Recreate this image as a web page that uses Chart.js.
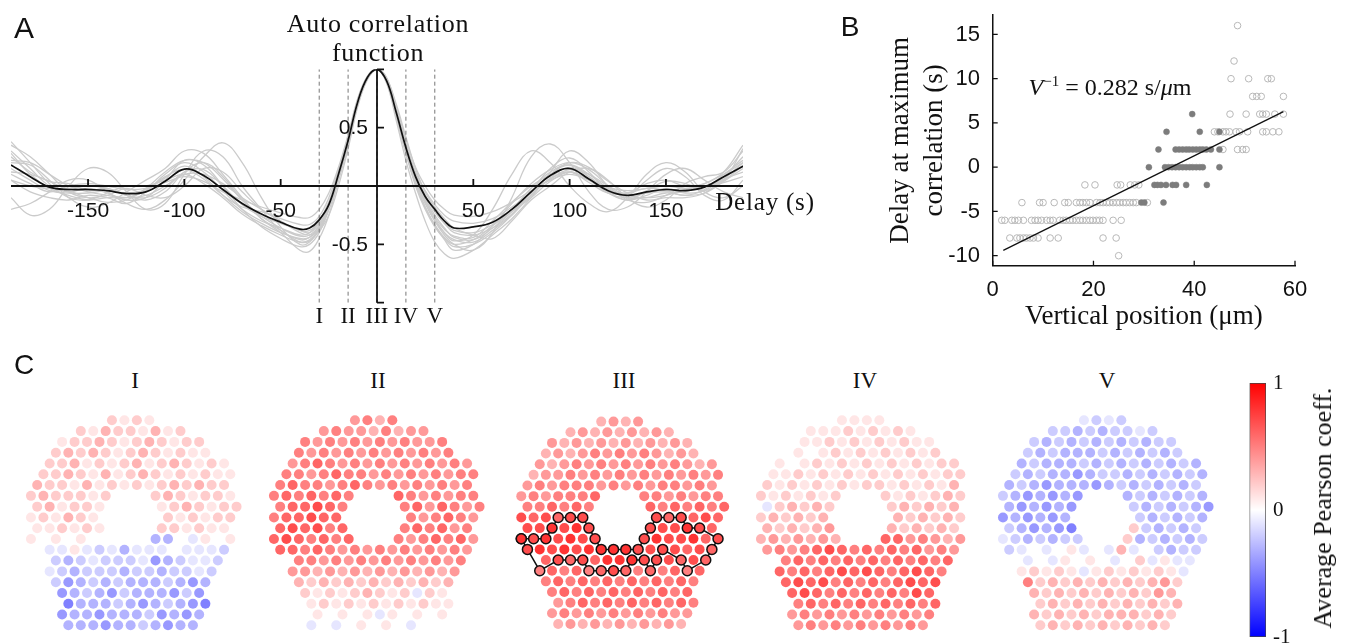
<!DOCTYPE html>
<html>
<head>
<meta charset="utf-8">
<script src="https://cdn.jsdelivr.net/npm/chart.js@4.4.1/dist/chart.umd.min.js"></script>
<style>
  body { margin: 0; background: #fff; }
  #fig { position: relative; width: 1350px; height: 644px; overflow: hidden; }
  #fig canvas { position: absolute; }
  .lbl { position: absolute; white-space: nowrap; line-height: 1; transform: translate(-50%, -50%); color: #111; }
  .serif { font-family: 'Liberation Serif', 'Times New Roman', serif; }
  .sans { font-family: 'Liberation Sans', Arial, sans-serif; }
</style>
</head>
<body>
<div id="fig">
  <canvas id="chartA" width="830" height="340" style="left:0;top:0"></canvas>
  <canvas id="chartB" width="520" height="340" style="left:830px;top:0"></canvas>
  <canvas id="chartC1" width="240" height="240"></canvas>
  <canvas id="chartC2" width="240" height="240"></canvas>
  <canvas id="chartC3" width="240" height="240"></canvas>
  <canvas id="chartC4" width="240" height="240"></canvas>
  <canvas id="chartC5" width="240" height="240"></canvas>
  <canvas id="colorbar" width="80" height="278" style="left:1230px;top:371px"></canvas>
</div>
<script>
// ---------- panel A: autocorrelation functions ----------
const delays = [-190,-180,-170,-160,-150,-140,-130,-120,-110,-100,-90,-80,-70,-60,-50,-40,
  -35,-30,-25,-20,-15,-10,-5,0,5,10,15,20,25,30,35,
  40,50,60,70,80,90,100,110,120,130,140,150,160,170,180,190];

const meanAcf = [0.18,0.08,-0.01,-0.03,-0.03,-0.04,-0.065,-0.05,0.04,0.145,0.09,-0.03,-0.15,-0.24,-0.31,-0.37,
  -0.36,-0.29,-0.16,0.1,0.39,0.72,0.93,1,0.9,0.63,0.33,0.08,-0.09,-0.2,-0.3,
  -0.36,-0.35,-0.31,-0.2,-0.05,0.09,0.15,0.06,-0.04,-0.08,-0.05,-0.03,-0.04,-0.01,0.08,0.17];

// single-cell autocorrelations (grey)
const cellAcf = [
  [0.3,0.15,0.0,-0.05,-0.02,-0.06,-0.12,-0.1,0.05,0.22,0.18,0.0,-0.2,-0.35,-0.45,-0.52,
   -0.5,-0.4,-0.2,0.06,0.36,0.7,0.92,1,0.9,0.6,0.28,0.0,-0.2,-0.35,-0.45,
   -0.52,-0.5,-0.4,-0.25,-0.05,0.15,0.24,0.12,-0.05,-0.12,-0.08,-0.02,-0.06,-0.04,0.08,0.25],
  [0.1,0.02,-0.05,0.0,0.02,0.0,-0.03,-0.02,0.03,0.08,0.04,-0.05,-0.12,-0.18,-0.23,-0.27,
   -0.27,-0.2,-0.06,0.16,0.44,0.75,0.94,1,0.93,0.68,0.4,0.16,0.0,-0.12,-0.2,
   -0.25,-0.26,-0.22,-0.14,-0.04,0.05,0.1,0.05,-0.01,-0.04,-0.02,0.0,-0.02,0.0,0.06,0.12],
  [-0.2,-0.15,-0.05,0.05,0.05,-0.05,-0.15,-0.2,-0.12,0.05,0.25,0.37,0.2,-0.1,-0.35,-0.5,
   -0.48,-0.36,-0.18,0.08,0.38,0.72,0.93,1,0.9,0.62,0.3,0.04,-0.15,-0.3,-0.42,
   -0.5,-0.55,-0.4,-0.1,0.25,0.36,0.2,-0.05,-0.2,-0.18,-0.05,0.1,0.15,0.05,-0.05,-0.1],
  [0.35,0.25,0.1,-0.05,-0.1,-0.08,-0.02,-0.08,-0.1,0.0,0.15,0.12,-0.05,-0.2,-0.3,-0.4,
   -0.42,-0.38,-0.25,0.0,0.32,0.68,0.91,1,0.92,0.7,0.42,0.15,-0.05,-0.18,-0.28,
   -0.36,-0.42,-0.45,-0.3,-0.12,0.0,0.12,0.15,0.05,-0.1,-0.18,-0.12,0.02,0.08,0.12,0.3],
  [0.05,-0.05,-0.1,-0.12,-0.08,-0.1,-0.15,-0.05,0.1,0.2,0.12,-0.04,-0.2,-0.3,-0.36,-0.42,
   -0.4,-0.3,-0.14,0.12,0.4,0.73,0.93,1,0.91,0.64,0.34,0.1,-0.1,-0.25,-0.36,
   -0.44,-0.46,-0.36,-0.22,-0.06,0.1,0.18,0.1,-0.02,-0.1,-0.1,-0.06,-0.08,-0.06,0.04,0.15],
  [0.2,0.18,0.05,-0.1,-0.18,-0.15,-0.05,0.05,0.15,0.3,0.28,0.1,-0.1,-0.28,-0.4,-0.55,
   -0.56,-0.45,-0.25,0.05,0.35,0.7,0.92,1,0.88,0.56,0.22,-0.06,-0.3,-0.48,-0.58,
   -0.62,-0.55,-0.42,-0.28,-0.1,0.12,0.3,0.2,0.0,-0.08,0.05,0.15,0.08,-0.08,-0.12,0.05],
  [0.25,0.12,0.04,0.02,-0.04,-0.02,-0.08,-0.1,-0.02,0.12,0.14,0.0,-0.16,-0.26,-0.32,-0.38,
   -0.4,-0.32,-0.18,0.08,0.37,0.71,0.92,1,0.91,0.66,0.36,0.1,-0.08,-0.22,-0.32,
   -0.38,-0.4,-0.33,-0.2,-0.02,0.12,0.18,0.08,-0.06,-0.1,-0.06,-0.05,-0.05,0.02,0.1,0.2],
  [-0.1,-0.25,-0.2,0.0,0.15,0.12,-0.05,-0.2,-0.15,0.1,0.3,0.25,0.0,-0.2,-0.38,-0.46,
   -0.44,-0.34,-0.16,0.1,0.4,0.74,0.94,1,0.92,0.66,0.35,0.08,-0.12,-0.28,-0.4,
   -0.47,-0.42,-0.2,0.1,0.3,0.2,0.0,-0.15,-0.22,-0.1,0.1,0.2,0.12,-0.05,-0.1,0.0],
  [0.15,0.05,-0.04,-0.06,-0.06,-0.04,-0.06,-0.03,0.07,0.17,0.08,-0.08,-0.22,-0.32,-0.4,-0.45,
   -0.44,-0.36,-0.2,0.05,0.36,0.7,0.92,1,0.9,0.62,0.3,0.05,-0.14,-0.3,-0.4,
   -0.46,-0.48,-0.38,-0.25,-0.08,0.07,0.16,0.08,-0.03,-0.06,-0.02,-0.04,-0.08,-0.03,0.1,0.22],
  [0.28,0.1,-0.02,-0.08,-0.12,-0.1,-0.1,-0.04,0.08,0.14,0.06,-0.08,-0.18,-0.22,-0.28,-0.33,
   -0.33,-0.26,-0.1,0.14,0.42,0.74,0.93,1,0.92,0.66,0.37,0.12,-0.04,-0.16,-0.25,
   -0.3,-0.32,-0.28,-0.18,-0.06,0.06,0.12,0.03,-0.06,-0.06,0.02,0.05,0.0,0.02,0.12,0.35],
  [0.22,0.2,0.1,0.0,-0.05,-0.08,-0.1,-0.08,0.0,0.1,0.1,0.02,-0.1,-0.2,-0.3,-0.38,
   -0.38,-0.3,-0.14,0.12,0.41,0.73,0.93,1,0.91,0.65,0.35,0.1,-0.08,-0.22,-0.32,
   -0.4,-0.42,-0.36,-0.24,-0.08,0.06,0.14,0.1,0.0,-0.08,-0.1,-0.08,-0.03,0.0,0.05,0.18],
  [0.05,0.0,-0.02,-0.02,0.0,-0.02,-0.08,-0.12,-0.05,0.12,0.2,0.08,-0.12,-0.28,-0.38,-0.48,
   -0.47,-0.38,-0.2,0.07,0.37,0.71,0.92,1,0.9,0.61,0.29,0.02,-0.18,-0.34,-0.46,
   -0.55,-0.5,-0.34,-0.15,0.02,0.14,0.2,0.14,0.0,-0.12,-0.14,-0.08,0.0,0.0,0.03,0.08],
  [0.12,0.1,0.04,-0.04,-0.1,-0.14,-0.12,-0.02,0.12,0.22,0.2,0.06,-0.12,-0.26,-0.36,-0.43,
   -0.42,-0.34,-0.17,0.1,0.39,0.72,0.93,1,0.9,0.63,0.32,0.06,-0.12,-0.27,-0.37,
   -0.43,-0.44,-0.3,-0.14,0.0,0.1,0.2,0.16,0.04,-0.06,-0.12,-0.1,-0.1,-0.06,0.06,0.2],
  [0.38,0.2,0.02,-0.1,-0.12,-0.06,0.0,0.0,0.05,0.1,0.02,-0.1,-0.24,-0.34,-0.42,-0.48,
   -0.46,-0.37,-0.19,0.08,0.38,0.72,0.93,1,0.9,0.6,0.28,0.02,-0.18,-0.33,-0.44,
   -0.5,-0.46,-0.34,-0.22,-0.1,0.04,0.12,0.05,-0.06,-0.12,-0.04,0.04,0.02,-0.04,0.05,0.32]
];

const splitDelays = [-30, -15, 0, 15, 30];
const splitNames = ['I', 'II', 'III', 'IV', 'V'];
const acfXTicks = [-150, -100, -50, 50, 100, 150];
const acfYTicks = [-1, -0.5, 0.5, 1];
const acfYLabels = {'-0.5': '-0.5', '0.5': '0.5'};

// ---------- panel B: delay vs vertical position ----------
const openPts = [
  [48.6,16],[47.9,12],
  [47.3,10],[50.8,10],[54.6,10],[55.3,10],
  [51.6,8],[52.4,8],[53.3,8],[57.7,8],
  [47.1,6],[50.3,6],[53.0,6],[53.6,6],[54.3,6],[56.0,6],[57.7,6],
  [44.0,4],[44.7,4],[45.7,4],[46.3,4],[47.0,4],[48.3,4],[49.0,4],[50.6,4],[53.6,4],[54.3,4],[55.6,4],[56.8,4],
  [45.7,2],[48.6,2],[49.6,2],[50.3,2],
  [18.3,-2],[20.3,-2],[24.7,-2],[25.4,-2],[27.3,-2],[28.2,-2],[29.0,-2],
  [5.8,-4],[9.3,-4],[10.0,-4],[12.2,-4],[14.3,-4],[15.0,-4],[16.6,-4],[17.3,-4],[17.9,-4],[18.6,-4],[19.3,-4],
  [20.6,-4],[21.3,-4],[21.9,-4],[22.6,-4],[23.2,-4],[23.9,-4],[24.6,-4],[25.2,-4],[25.9,-4],[26.5,-4],[27.2,-4],[27.9,-4],[28.5,-4],[30.7,-4],
  [1.8,-6],[2.4,-6],[3.8,-6],[4.4,-6],[5.1,-6],[6.1,-6],[7.7,-6],[8.4,-6],[9.0,-6],[9.7,-6],[10.7,-6],[11.4,-6],[12.0,-6],
  [13.3,-6],[14.0,-6],[14.6,-6],[15.3,-6],[15.9,-6],[16.6,-6],[17.3,-6],[17.9,-6],[18.6,-6],[19.3,-6],[19.9,-6],[20.6,-6],[21.2,-6],[21.9,-6],[23.9,-6],[25.5,-6],
  [3.4,-8],[4.8,-8],[5.4,-8],[6.1,-8],[6.7,-8],[7.4,-8],[8.1,-8],[9.0,-8],[11.4,-8],[13.0,-8],[21.9,-8],[24.5,-8],
  [25.0,-10]
];
const filledPts = [
  [39.6,6],
  [34.5,4],[41.1,4],[45.0,4],
  [32.9,2],[36.3,2],[37.0,2],[37.7,2],[38.4,2],[39.0,2],[39.7,2],[40.4,2],[41.1,2],[41.7,2],[42.4,2],[43.3,2],[45.0,2],
  [31.0,0],[34.2,0],[34.9,0],[35.6,0],[36.3,0],[37.0,0],[37.7,0],[38.4,0],[39.1,0],[39.7,0],[40.4,0],[41.1,0],[41.7,0],[45.0,0],
  [32.1,-2],[32.7,-2],[33.4,-2],[34.4,-2],[35.7,-2],[36.4,-2],[38.4,-2],[42.5,-2],
  [29.5,-4],[30.1,-4],[33.9,-4]
];
const fitLine = [[2.1, -9.4], [57.7, 6.28]];
const posTicks = [0, 20, 40, 60];
const delayTicks = [-10, -5, 0, 5, 10, 15];

// ---------- panel C: correlation maps ----------
// cell layout on a hexagonal lattice ('x' = cell)
const cellMask = [
  '.......xxxx.......',
  '....xxxxxxxxx.....',
  '...xxxxxxxxxxxx...',
  '..xxxxxxxxxxxxx...',
  '..xxxxxxxxxxxxxxx.',
  '.xxxxxxxxxxxxxxxx.',
  '.xxxxxxxxxxxxxxxx.',
  'xxxxxxx...xxxxxxx.',
  '.xxxxxx....xxxxxxx',
  'xxxxxx.....xxxxxx.',
  '.xxxxxx....xxxxxx.',
  'xxxxxxx...xxxxxxx.',
  '.xxxxxxxxxxxxxxxx.',
  '..xxxxxxxxxxxxxx..',
  '..xxxxxxxxxxxxxx..',
  '..xxxxxxxxxxxxx...',
  '...xxxxxxxxxxxx...',
  '...xxxxxxxxxxxx...',
  '...xxxxxxxxxxxx...',
  '...xxxxxxxxxxx....'
];
// coefficient per cell, row by row: '0'-'9' = 0.0..0.9, 'a'-'i' = -0.1..-0.9
const coeffI = ['2121','213221312','122321232122','2323212321211','223121231232121','2232131232121211',
  '3221312121232322','23222122321221','2312211232122','121321212122','112121221211','1010100cc0a101',
  '0aa1abacaaa0aaab','bcbabbbadcbaab','abcbbbcbbcbbab','bdcbcbcccbcdc','dcbcdbcccdbd','ecccbcdcbcde',
  'dccdcccbdcdc','cccdccbcdcc'];
const coeffII = ['4535','454435344','545454545445','5454545454545','456545454545454','5545655454545455',
  '5655456545454545','56565656545455','5667655646545','566766545654','676756565645','67656565456564',
  '6656545454545454','55454545454545','44343434343434','3232323232323','212123212a21','121212121211',
  '010101a10101','a0a01010a00'];
const coeffIII = ['3434','343434343','434343434343','3434545454343','434545454545434','3445454545454545',
  '4545554545455454','45455565545455','5565656565656','767677767676','778787777876','87878777877867',
  '7878788887777676','67676888777676','56565676565656','5656565656565','565656565656','456565656565',
  '454545454544','34343434343'];
const coeffIV = ['1111','111212121','011212121211','0101212121212','101212121212122','1121212121212122',
  '2121212122121213','21212122121232','a232322323230','232323323232','323234323232','34343436645434',
  '4545676565656454','56565656565656','65656767656765','6767565656767','676565656576','565656565656',
  '454545454545','45454545454'];
const coeffV = ['abab','bbcbcbbab','bcbcbcbcbcbb','bcbcccbcbcbcb','cbcccbcbcbcbcbc','bcbccdcbbcbcbcbc',
  'cbcdcccdcbcbcbcb','bcdcdcdcbcbcbc','cdcdcdbcbcbcd','dcdcdcbcbcbc','bcdcde2bcbcb','abcbcbb2cbcbcb',
  'ba0a01a0a3a0bcbb','a0a1010a02a1aa','12121a1212121a','5232323232342','323232323243','232323232323',
  '323232333232','23232323232'];
const panelNames = ['I', 'II', 'III', 'IV', 'V'];
const panelCoeffs = [coeffI, coeffII, coeffIII, coeffIV, coeffV];
// outlined cluster in panel III, as [row, column] of the lattice
const clusterIII = [[11,0],[12,1],[14,2],[13,3],[13,4],[13,5],[14,6],[14,7],[14,8],[14,9],[13,9],[13,10],
  [14,11],[13,11],[12,12],[13,13],[14,14],[13,15],[12,16],[11,16],[10,15],[10,14],[9,13],[9,12],[9,11],
  [10,11],[11,10],[12,10],[12,9],[12,8],[12,7],[11,6],[10,6],[9,5],[9,4],[9,3],[10,3],[11,2],[11,1],[11,0]];

const cbTicks = [-1, 0, 1];
const cbColors = ['#0000ff', '#ffffff', '#ff0000'];

// ---------- helpers ----------
const SERIF = "'Liberation Serif', 'Times New Roman', serif";
const SANS = "'Liberation Sans', Arial, sans-serif";
Chart.defaults.animation = false;
Chart.defaults.plugins.legend.display = false;
Chart.defaults.plugins.tooltip.enabled = false;
Chart.defaults.font.family = SANS;

function label(text, x, y, size, cls, extra) {
  const d = document.createElement('div');
  d.className = 'lbl ' + cls;
  d.innerHTML = text;
  d.style.left = x + 'px';
  d.style.top = y + 'px';
  d.style.fontSize = size + 'px';
  if (extra) Object.assign(d.style, extra);
  document.getElementById('fig').appendChild(d);
}

function cellValue(ch) {
  if (ch >= '0' && ch <= '9') return (ch.charCodeAt(0) - 48) / 10;
  return -(ch.charCodeAt(0) - 96) / 10;
}

function coeffColor(v) {
  const t = Math.round(255 * (1 - Math.min(1, Math.abs(v))));
  return v >= 0 ? `rgb(255,${t},${t})` : `rgb(${t},${t},255)`;
}

function toXY(arr) {
  return arr.map(p => ({x: p[0], y: p[1]}));
}

// ---------- panel A ----------
const axesA = {
  id: 'axesA',
  afterDatasetsDraw(chart) {
    const {ctx, scales: {x, y}} = chart;
    const x0 = x.getPixelForValue(0);
    const y0 = y.getPixelForValue(0);
    ctx.save();
    ctx.strokeStyle = '#111';
    ctx.lineWidth = 1.8;
    ctx.beginPath();
    ctx.moveTo(x.getPixelForValue(delays[0]), y0);
    ctx.lineTo(x.getPixelForValue(delays[delays.length - 1]), y0);
    ctx.moveTo(x0, y.getPixelForValue(1));
    ctx.lineTo(x0, y.getPixelForValue(-1));
    acfXTicks.forEach(v => {
      const px = x.getPixelForValue(v);
      ctx.moveTo(px, y0);
      ctx.lineTo(px, y0 - 7);
    });
    acfYTicks.forEach(v => {
      const py = y.getPixelForValue(v);
      ctx.moveTo(x0, py);
      ctx.lineTo(x0 + 7, py);
    });
    ctx.stroke();

    ctx.fillStyle = '#111';
    ctx.font = '21px ' + SANS;
    ctx.textAlign = 'center';
    ctx.textBaseline = 'middle';
    acfXTicks.forEach(v => ctx.fillText(String(v), x.getPixelForValue(v), y0 + 25));
    ctx.textAlign = 'right';
    acfYTicks.forEach(v => {
      const t = acfYLabels[String(v)];
      if (t) ctx.fillText(t, x0 - 9, y.getPixelForValue(v) + 1);
    });

    ctx.font = '23px ' + SERIF;
    ctx.textAlign = 'center';
    splitDelays.forEach((d, i) => ctx.fillText(splitNames[i], x.getPixelForValue(d), 317));
    ctx.restore();
  }
};

const datasetsA = [{
  data: delays.map((d, i) => ({x: d, y: meanAcf[i]})),
  borderColor: '#111',
  borderWidth: 1.7,
  pointRadius: 0,
  tension: 0.4,
  order: 0
}];
splitDelays.forEach(d => {
  datasetsA.push({
    data: [{x: d, y: -1}, {x: d, y: 1}],
    borderColor: '#777',
    borderWidth: 1,
    borderDash: [4, 3],
    pointRadius: 0,
    order: 1
  });
});
cellAcf.forEach(trace => {
  datasetsA.push({
    data: delays.map((d, i) => ({x: d, y: trace[i]})),
    borderColor: '#cbcbcb',
    borderWidth: 1.3,
    pointRadius: 0,
    tension: 0.4,
    order: 2
  });
});

new Chart(document.getElementById('chartA'), {
  type: 'line',
  data: {datasets: datasetsA},
  options: {
    responsive: false,
    devicePixelRatio: 1,
    layout: {padding: {left: 11, right: 87, top: 69.3, bottom: 37.3}},
    scales: {
      x: {type: 'linear', display: false, min: -190, max: 190},
      y: {type: 'linear', display: false, min: -1, max: 1}
    }
  },
  plugins: [axesA]
});

// ---------- panel B ----------
const inwardTicksB = {
  id: 'inwardTicksB',
  afterDraw(chart) {
    const {ctx, chartArea, scales: {x, y}} = chart;
    ctx.save();
    ctx.strokeStyle = '#111';
    ctx.lineWidth = 1.3;
    ctx.beginPath();
    posTicks.forEach(v => {
      const px = x.getPixelForValue(v);
      ctx.moveTo(px, chartArea.bottom);
      ctx.lineTo(px, chartArea.bottom - 5);
    });
    delayTicks.forEach(v => {
      const py = y.getPixelForValue(v);
      ctx.moveTo(chartArea.left, py);
      ctx.lineTo(chartArea.left + 5, py);
    });
    ctx.stroke();
    ctx.restore();
  }
};

new Chart(document.getElementById('chartB'), {
  type: 'scatter',
  data: {
    datasets: [
      {
        type: 'line',
        data: toXY(fitLine),
        borderColor: '#111',
        borderWidth: 1.3,
        pointRadius: 0,
        order: 0
      },
      {
        data: toXY(filledPts),
        pointRadius: 3,
        pointBackgroundColor: '#7c7c7c',
        pointBorderColor: '#7c7c7c',
        pointBorderWidth: 0.5,
        order: 1
      },
      {
        data: toXY(openPts),
        pointRadius: 3.3,
        pointBackgroundColor: 'rgba(255,255,255,0)',
        pointBorderColor: '#b8b8b8',
        pointBorderWidth: 1,
        order: 2
      }
    ]
  },
  options: {
    responsive: false,
    devicePixelRatio: 1,
    layout: {padding: {left: 50, right: 55, top: 15, bottom: 0}},
    scales: {
      x: {
        type: 'linear', position: 'bottom', min: 0, max: 60,
        afterBuildTicks: s => { s.ticks = posTicks.map(v => ({value: v})); },
        afterFit: s => { s.height = 74.3; s.paddingLeft = 0; s.paddingRight = 0; },
        grid: {display: false, drawTicks: false},
        border: {color: '#111', width: 1.5},
        ticks: {padding: 11, color: '#111', font: {family: SANS, size: 22}},
        title: {display: true, text: 'Vertical position (μm)', color: '#111',
                font: {family: SERIF, size: 27, lineHeight: 1.2}, padding: {top: 0, bottom: 7}}
      },
      y: {
        type: 'linear', position: 'left', min: -11.13, max: 17.2,
        afterBuildTicks: s => { s.ticks = delayTicks.map(v => ({value: v})); },
        afterFit: s => { s.width = 112.7; s.paddingTop = 0; s.paddingBottom = 0; },
        grid: {display: false, drawTicks: false},
        border: {color: '#111', width: 1.5},
        ticks: {padding: 12.7, color: '#111', font: {family: SANS, size: 22}},
        title: {display: true, text: ['Delay at maximum', 'correlation (s)'], color: '#111',
                font: {family: SERIF, size: 27, lineHeight: 1.25}, padding: {top: 4, bottom: 0}}
      }
    }
  },
  plugins: [inwardTicksB]
});

// ---------- panel C ----------
const panelCentersX = [133, 376, 622, 863, 1105];
const panelCenterY = 519;

function cellPoint(r, c) {
  return {x: c + (r % 2) * 0.5, y: r * 0.866};
}

panelCoeffs.forEach((rows, p) => {
  const canvas = document.getElementById('chartC' + (p + 1));
  canvas.style.left = (panelCentersX[p] - 120) + 'px';
  canvas.style.top = (panelCenterY - 120) + 'px';

  const pts = [];
  const colors = [];
  const lookup = {};
  cellMask.forEach((mask, r) => {
    let k = 0;
    for (let c = 0; c < mask.length; c++) {
      if (mask[c] !== 'x') continue;
      const ch = rows[r][k++];
      if (!ch) continue;
      const col = coeffColor(cellValue(ch));
      pts.push(cellPoint(r, c));
      colors.push(col);
      lookup[r + ',' + c] = col;
    }
  });

  const datasets = [{
    data: pts,
    pointRadius: 5,
    pointBackgroundColor: colors,
    pointBorderWidth: 0,
    pointBorderColor: 'rgba(0,0,0,0)',
    clip: false,
    order: 1
  }];
  if (p === 2) {
    datasets.push({
      type: 'line',
      data: clusterIII.map(rc => cellPoint(rc[0], rc[1])),
      borderColor: '#111',
      borderWidth: 1.5,
      pointRadius: 5,
      pointBackgroundColor: clusterIII.map(rc => lookup[rc[0] + ',' + rc[1]]),
      pointBorderColor: '#111',
      pointBorderWidth: 1.5,
      tension: 0,
      clip: false,
      order: 0
    });
  }

  new Chart(canvas, {
    type: 'scatter',
    data: {datasets},
    options: {
      responsive: false,
      devicePixelRatio: 1,
      layout: {padding: 0},
      scales: {
        x: {type: 'linear', display: false, min: -0.54, max: 17.92},
        y: {type: 'linear', display: false, min: -1.31, max: 17.15, reverse: true}
      }
    }
  });

  label(panelNames[p], panelCentersX[p] + 2, 380, 23, 'serif');
});

// colour bar
new Chart(document.getElementById('colorbar'), {
  type: 'bar',
  data: {
    labels: ['coeff'],
    datasets: [{
      data: [[cbTicks[0], cbTicks[cbTicks.length - 1]]],
      barPercentage: 1,
      categoryPercentage: 1,
      borderColor: '#444',
      borderWidth: 1,
      borderSkipped: false,
      backgroundColor: ctx => {
        const area = ctx.chart.chartArea;
        if (!area) return cbColors[1];
        const g = ctx.chart.ctx.createLinearGradient(0, area.bottom, 0, area.top);
        cbColors.forEach((c, i) => g.addColorStop(i / (cbColors.length - 1), c));
        return g;
      }
    }]
  },
  options: {
    responsive: false,
    devicePixelRatio: 1,
    layout: {padding: {left: 19.5, right: 14, top: 12, bottom: 12}},
    scales: {
      x: {display: false},
      y: {
        position: 'right', min: -1, max: 1,
        afterBuildTicks: s => { s.ticks = cbTicks.map(v => ({value: v})); },
        afterFit: s => { s.width = 30; s.paddingTop = 0; s.paddingBottom = 0; },
        grid: {display: false, drawTicks: false},
        border: {display: false},
        ticks: {padding: 7, color: '#111', font: {family: SERIF, size: 21}}
      }
    }
  }
});

// ---------- text ----------
label('A', 24, 27.5, 30, 'sans');
label('B', 850, 26.7, 28, 'sans');
label('C', 24, 365, 28, 'sans');
label('Auto correlation', 378, 23.5, 26, 'serif', {letterSpacing: '0.7px'});
label('function', 378, 53, 26, 'serif', {letterSpacing: '0.7px'});
label('Delay (s)', 765, 201, 25, 'serif', {letterSpacing: '0.8px'});
label('<i>V</i><sup style="font-size:15px;vertical-align:9px">−1</sup> = 0.282 s/<i>μ</i>m', 1110, 86, 24, 'serif');
label('Average Pearson coeff.', 1323, 508, 26, 'serif', {transform: 'translate(-50%, -50%) rotate(-90deg)'});
</script>
</body>
</html>
